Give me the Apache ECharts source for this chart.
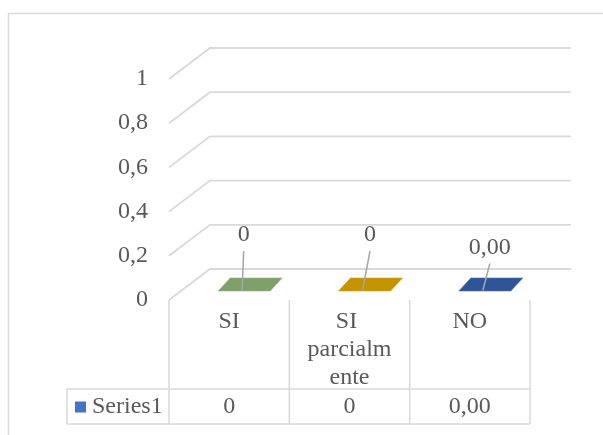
<!DOCTYPE html>
<html>
<head>
<meta charset="utf-8">
<script src="https://cdn.jsdelivr.net/npm/echarts@6/dist/echarts.min.js"></script>
<style>
  html, body { margin: 0; padding: 0; background: #fff; }
  #chart { width: 603px; height: 435px; }
</style>
</head>
<body>
<div id="chart"></div>
<script>
// Chart data
const categories = ['SI', 'SI parcialmente', 'NO'];
const values = [0, 0, 0];
const decimals = [0, 0, 2];          // number format of each point
const seriesName = 'Series1';
const yTicks = [0, 0.2, 0.4, 0.6, 0.8, 1];

// Look and layout
const barColors = ['#7fa06a', '#c49300', '#2f5597'];
const seriesColor = '#4472c4';
const labelShift = [[14.5, -56], [20.5, -56], [20, -43.5]]; // data label centre relative to bar front/top
const FONT = "'Liberation Serif', 'Times New Roman', serif";
const FS = 24;
const TEXT = '#595959';
const LINE = '#d9d9d9';
const WALL = [41, -31];   // shift from the front plane to the back wall
const BAR_DEPTH = [12, -13];

function fmt(v, d) { return v.toFixed(d).replace('.', ','); }

const chart = echarts.init(document.getElementById('chart'), null, { renderer: 'canvas' });

// band geometry helpers
function bandEdges(api) {
  const band = api.size([1, 0])[0];
  const x0 = api.coord([0, 0])[0] - band / 2;
  const x1 = api.coord([categories.length - 1, 0])[0] + band / 2;
  return { band, x0, x1 };
}

chart.setOption({
  animation: false,
  backgroundColor: '#fff',
  textStyle: { fontFamily: FONT },
  grid: { left: 169, top: 79, width: 361, height: 221, containLabel: false },
  legend: {
    data: [seriesName],
    left: 75, top: 395, padding: 0,
    icon: 'rect', itemWidth: 11, itemHeight: 11, itemGap: 5,
    textStyle: { fontFamily: FONT, fontSize: FS, color: TEXT, padding: [0, 0, 0, 1] }
  },
  xAxis: {
    type: 'category',
    data: categories,
    axisLine: { show: false },
    axisTick: { show: false },
    splitLine: { show: false },
    axisLabel: {
      interval: 0,
      margin: 8,
      fontFamily: FONT, fontSize: FS, color: TEXT,
      lineHeight: 28,
      width: 90,
      overflow: 'break',
      verticalAlign: 'top'
    }
  },
  yAxis: {
    type: 'value',
    min: 0, max: 1, interval: 0.2,
    axisLine: { show: false },
    axisTick: { show: false },
    splitLine: { show: false },
    axisLabel: {
      margin: 21,
      fontFamily: FONT, fontSize: FS, color: TEXT,
      formatter: v => String(+v.toFixed(1)).replace('.', ',')
    }
  },
  graphic: [{
    type: 'rect',
    shape: { x: 8.5, y: 13.5, width: 800, height: 600 },
    style: { fill: null, stroke: LINE, lineWidth: 1.5 },
    silent: true, z: -10
  }],
  series: [
    {
      // back wall gridlines with their diagonal side
      type: 'custom',
      silent: true,
      data: [[0, 0]],
      z: 1,
      renderItem(params, api) {
        const { x0, x1 } = bandEdges(api);
        const children = yTicks.map(t => {
          const y = api.coord([0, t])[1];
          return {
            type: 'polyline',
            shape: { points: [[x0, y], [x0 + WALL[0], y + WALL[1]], [x1 + WALL[0], y + WALL[1]]] },
            style: { stroke: LINE, lineWidth: 1.8, fill: null }
          };
        });
        return { type: 'group', children };
      }
    },
    {
      // data table below the plot
      type: 'custom',
      silent: true,
      data: values.map((v, i) => [i, v]),
      z: 1,
      renderItem(params, api) {
        const i = params.dataIndex;
        const { band, x1 } = bandEdges(api);
        const base = api.coord([0, 0])[1];
        const rowTop = base + 89, rowBot = base + 124;
        const cx = api.coord([i, 0])[0];
        const children = [{
          type: 'text',
          style: {
            x: cx, y: base + 107, text: fmt(api.value(1), decimals[i]),
            font: FS + 'px ' + FONT, fill: TEXT, align: 'center', verticalAlign: 'middle'
          }
        }];
        const ln = (a, b, c, d) => ({
          type: 'line', shape: { x1: a, y1: b, x2: c, y2: d },
          style: { stroke: LINE, lineWidth: 1.5 }
        });
        children.push(ln(cx - band / 2, base, cx - band / 2, rowBot));
        if (i === categories.length - 1) {
          children.push(ln(x1, base, x1, rowBot));
          children.push(ln(67, rowTop, x1, rowTop));
          children.push(ln(67, rowBot, x1, rowBot));
          children.push(ln(67, rowTop, 67, rowBot));
        }
        return { type: 'group', children };
      }
    },
    {
      // 3D columns with leader-lined data labels
      name: seriesName,
      type: 'custom',
      itemStyle: { color: seriesColor },
      data: values.map((v, i) => [i, v]),
      encode: { x: 0, y: 1 },
      z: 3,
      renderItem(params, api) {
        const i = params.dataIndex;
        const v = api.value(1);
        const cx = api.coord([i, 0])[0];
        const yb = api.coord([i, 0])[1] - 9;
        const yt = api.coord([i, v])[1] - 9;
        const fl = cx - 11, fr = cx + 41;
        const [dx, dy] = BAR_DEPTH;
        const col = barColors[i];
        const dark = echarts.color.lift(col, -0.2);
        const children = [];
        if (yb - yt > 0.5) {
          children.push({ type: 'rect', shape: { x: fl, y: yt, width: fr - fl, height: yb - yt }, style: { fill: col } });
          children.push({ type: 'polygon', shape: { points: [[fr, yt], [fr + dx, yt + dy], [fr + dx, yb + dy], [fr, yb]] }, style: { fill: dark } });
        }
        children.push({
          type: 'polygon',
          shape: { points: [[fl, yt], [fr, yt], [fr + dx, yt + dy], [fl + dx, yt + dy]] },
          style: { fill: col, stroke: echarts.color.lift(col, 0.15), lineWidth: 0.6 }
        });
        const lx = cx + labelShift[i][0], ly = yt + labelShift[i][1];
        children.push({
          type: 'line',
          shape: { x1: lx, y1: ly + 16, x2: cx + 13, y2: yt - 0.5 },
          style: { stroke: '#a6a6a6', lineWidth: 1.5 },
          z2: 5
        });
        children.push({
          type: 'text',
          style: {
            x: lx, y: ly, text: fmt(v, decimals[i]),
            font: FS + 'px ' + FONT, fill: TEXT, align: 'center', verticalAlign: 'middle'
          },
          z2: 6
        });
        return { type: 'group', children };
      }
    }
  ]
});
</script>
</body>
</html>
